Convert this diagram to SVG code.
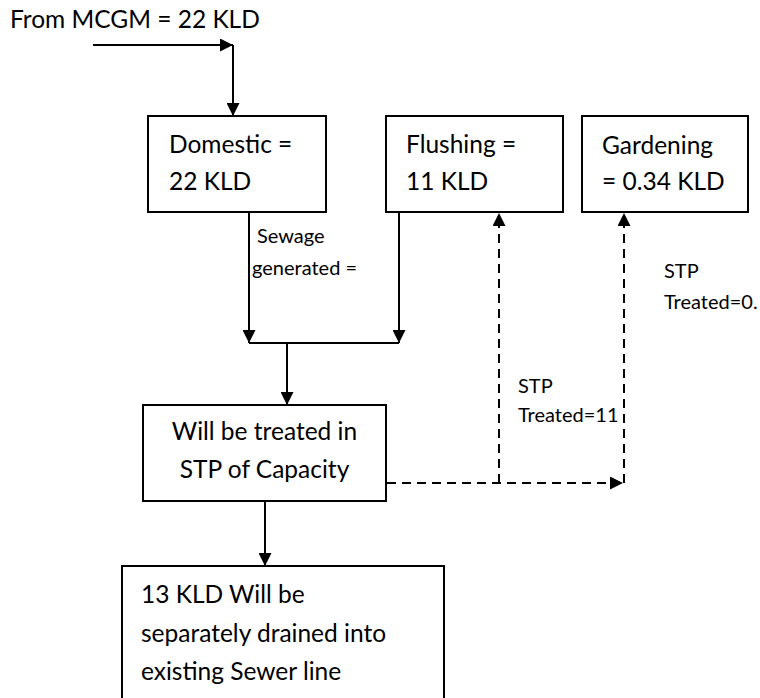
<svg xmlns="http://www.w3.org/2000/svg" width="760" height="698" viewBox="0 0 760 698">
<style>
.box{fill:#fff;stroke:#000;stroke-width:2}
.t{font-family:Lato,"Open Sans","Liberation Sans",sans-serif;font-size:24.5px;fill:#000}
.s{font-family:Lato,"Open Sans","Liberation Sans",sans-serif;font-size:20px;fill:#000}
.ln{fill:none;stroke:#000;stroke-width:2}
.dl{fill:none;stroke:#000;stroke-width:2;stroke-dasharray:9 6}
</style>
<defs>
<marker id="ah" markerUnits="userSpaceOnUse" markerWidth="13" markerHeight="13" refX="13" refY="6.5" orient="auto" viewBox="0 0 13 13">
<path d="M0,0 L13,6.5 L0,13 z" fill="#000"/>
</marker>
</defs>
<text class="t" x="10" y="28">From MCGM = 22 KLD</text>
<g id="domestic">
<rect class="box" x="148" y="116" width="178" height="96"/>
<text class="t" x="169" y="153">Domestic =</text>
<text class="t" x="169" y="190">22 KLD</text>
</g>
<g id="flushing">
<rect class="box" x="386" y="116" width="177" height="96"/>
<text class="t" x="406" y="153">Flushing =</text>
<text class="t" x="406" y="190">11 KLD</text>
</g>
<g id="gardening">
<rect class="box" x="582" y="116" width="166" height="96"/>
<text class="t" x="602" y="154">Gardening</text>
<text class="t" x="602" y="190">= 0.34 KLD</text>
</g>
<g id="stp">
<rect class="box" x="143" y="405" width="243" height="96"/>
<text class="t" x="264.5" y="440" text-anchor="middle">Will be treated in</text>
<text class="t" x="264.5" y="478" text-anchor="middle">STP of Capacity</text>
</g>
<g id="sewer">
<rect class="box" x="122" y="566" width="322" height="150"/>
<text class="t" x="141" y="603">13 KLD Will be</text>
<text class="t" x="141" y="642">separately drained into</text>
<text class="t" x="141" y="680">existing Sewer line</text>
</g>
<g id="connectors">
<path class="ln" d="M93,45 H233" marker-end="url(#ah)"/>
<path class="ln" d="M233,45 V116" marker-end="url(#ah)"/>
<path class="ln" d="M249,212 V343" marker-end="url(#ah)"/>
<path class="ln" d="M399,212 V343" marker-end="url(#ah)"/>
<path class="ln" d="M249,343 H399"/>
<path class="ln" d="M287,343 V405" marker-end="url(#ah)"/>
<path class="ln" d="M265,501 V566" marker-end="url(#ah)"/>
<path class="dl" d="M387,483 H623" marker-end="url(#ah)"/>
<path class="dl" d="M499,483 V213" marker-end="url(#ah)"/>
<path class="dl" d="M624,483 V213" marker-end="url(#ah)"/>
<text class="s" x="257" y="243">Sewage</text>
<text class="s" x="252" y="275">generated =</text>
<text class="s" x="518" y="393">STP</text>
<text class="s" x="518" y="422">Treated=11</text>
<text class="s" x="664" y="278">STP</text>
<text class="s" x="664" y="309">Treated=0.</text>
</g>
</svg>
